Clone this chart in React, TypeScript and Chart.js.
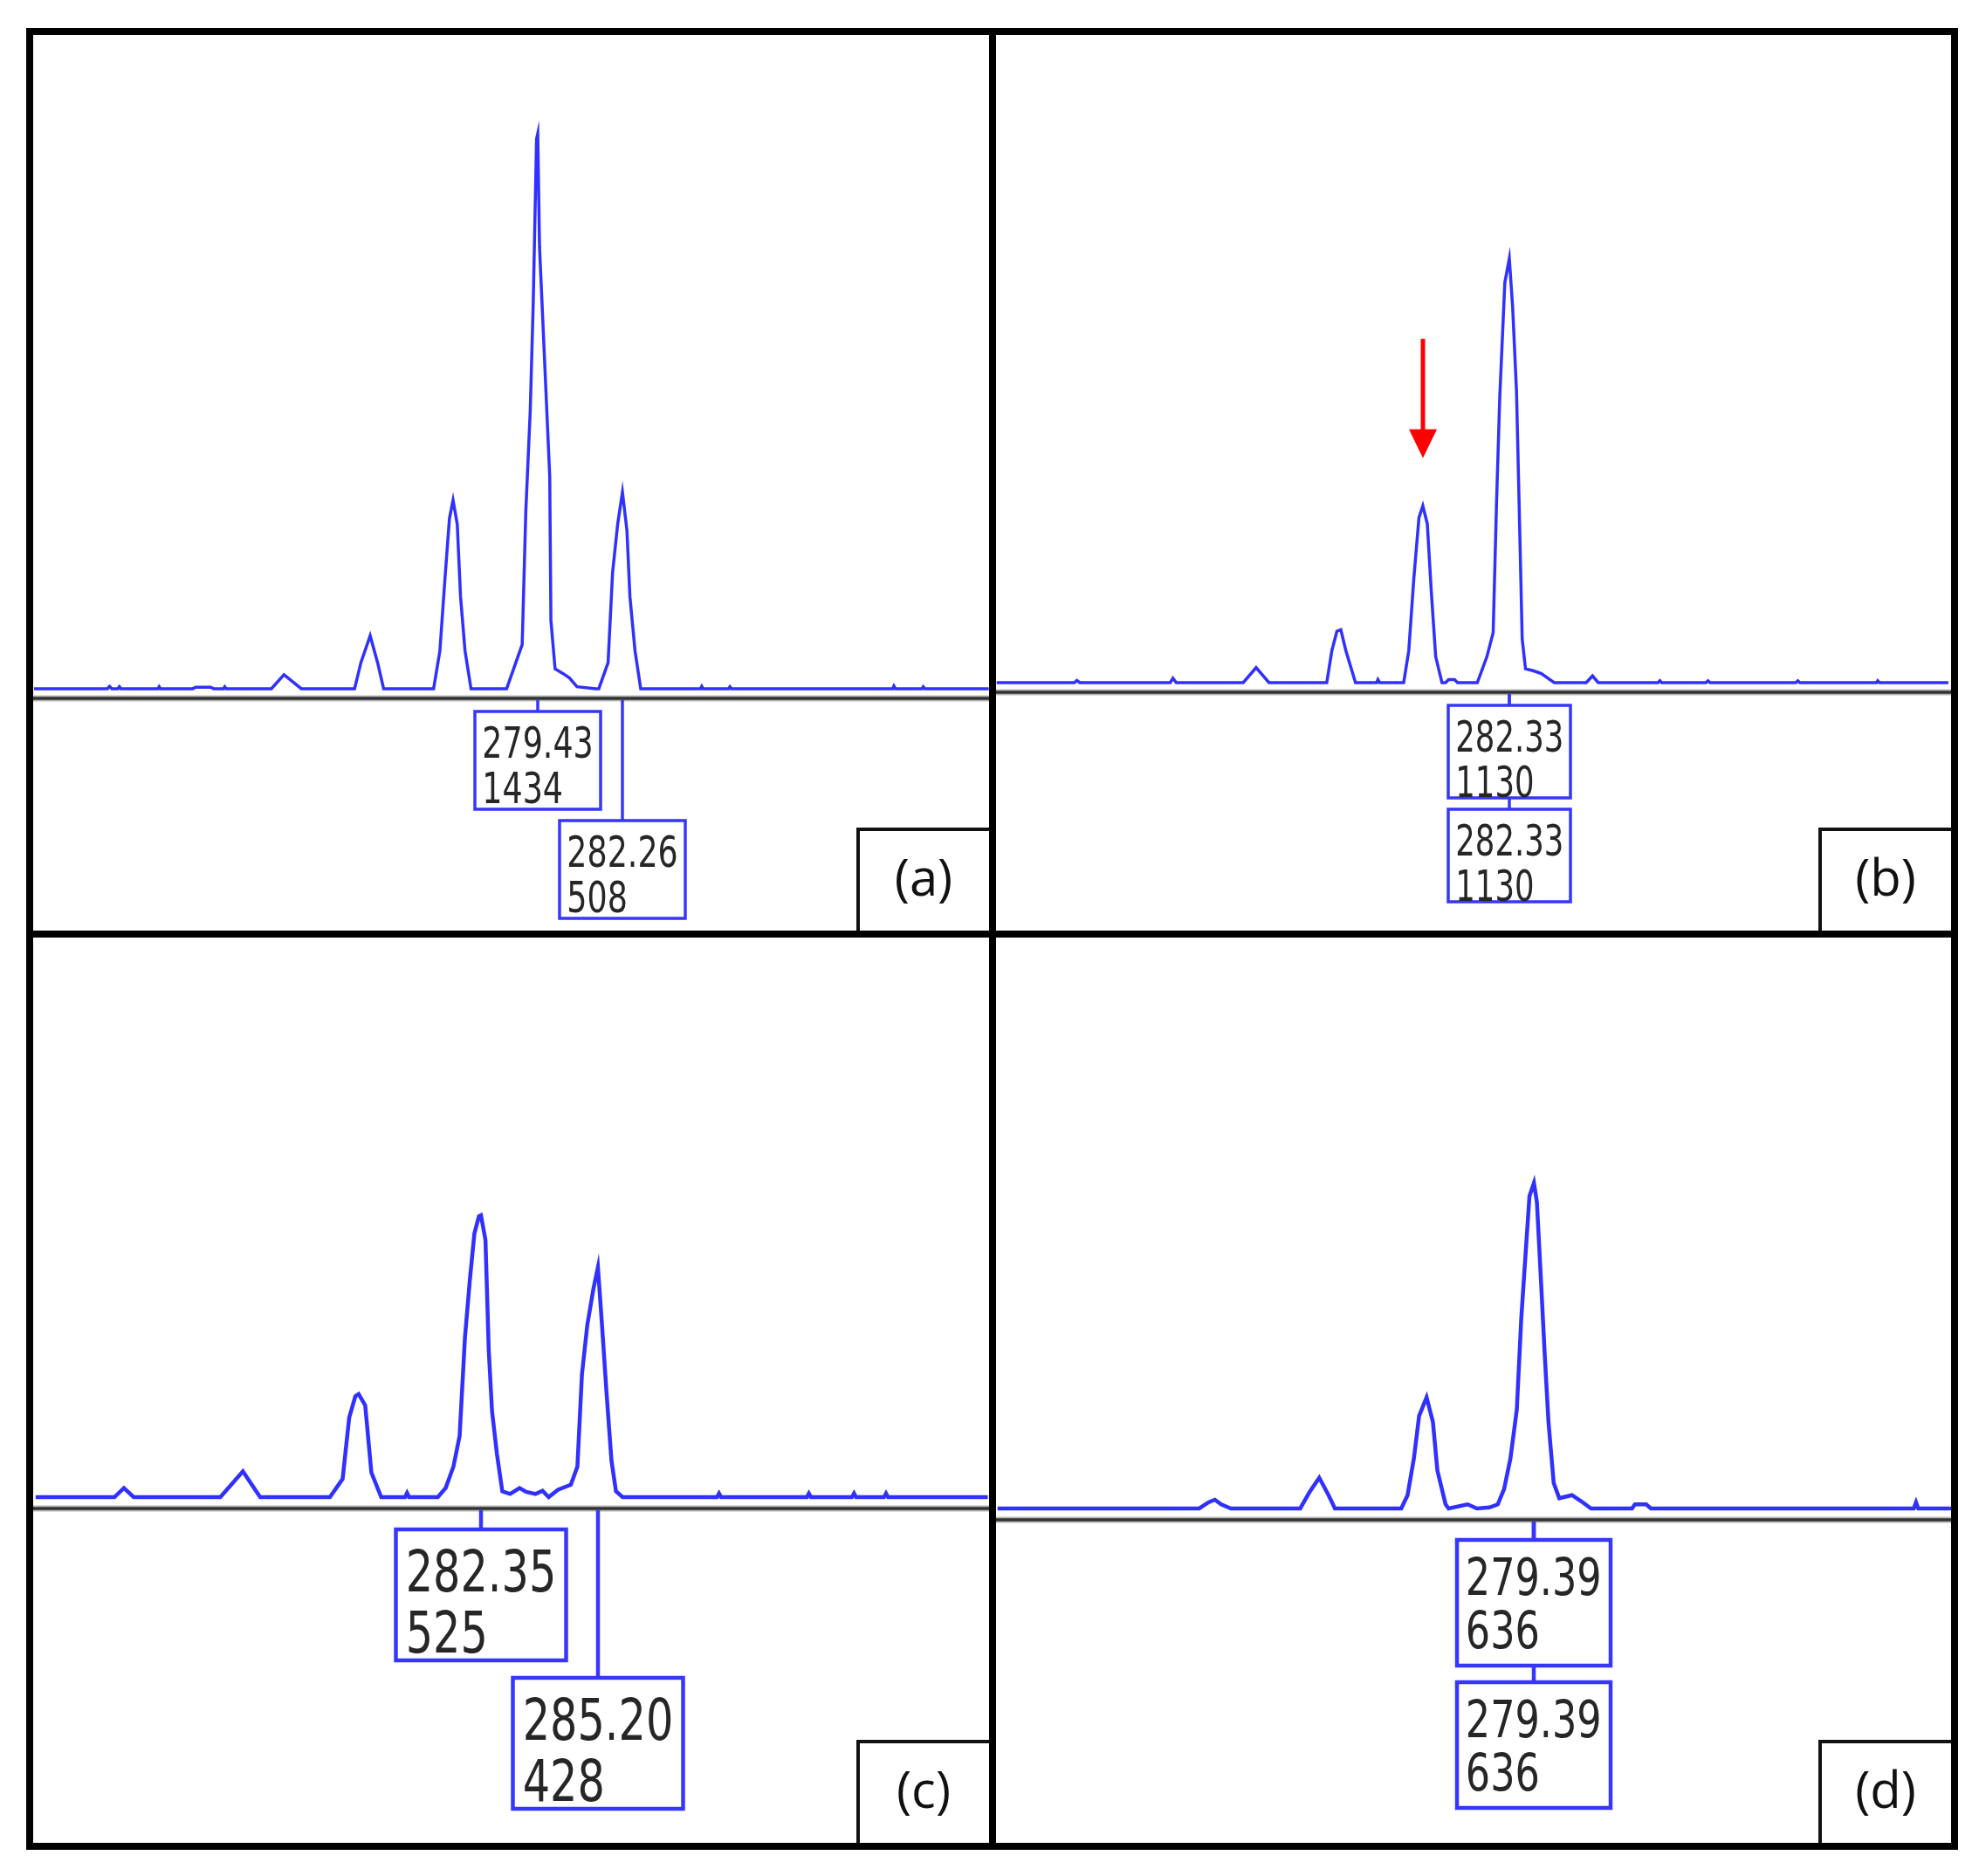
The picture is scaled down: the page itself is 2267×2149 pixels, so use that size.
import React, { useEffect, useRef } from "react";
import { Chart, registerables } from "chart.js";
Chart.register(...registerables);

// ---------- DATA (size in bp, height in RFU) ----------
// Panel (a)
const sizeA = [262.6, 265.05, 265.12, 265.2, 265.4, 265.45, 265.5, 266.74, 266.78, 266.82, 267.9, 268.0, 268.5, 268.6, 268.93, 268.97, 269.02,
  270.53, 270.95, 271.53, 273.31, 273.52, 273.83, 274.08, 274.28, 275.95, 276.16, 276.33, 276.48, 276.6, 276.74, 276.85, 277.0, 277.2,
  278.39, 278.91, 279.03, 279.18, 279.28, 279.39, 279.43, 279.49, 279.66, 279.83, 279.87, 280.01, 280.28, 280.49, 280.74, 281.37,
  281.47, 281.78, 281.93, 282.1, 282.26, 282.41, 282.51, 282.68, 282.87, 284.87, 284.91, 284.95, 285.81, 285.85, 285.9,
  291.29, 291.33, 291.38, 292.27, 292.31, 292.36, 294.5];
const rfuA = [0, 0, 6, 0, 0, 5, 0, 0, 5, 0, 0, 4, 4, 0, 0, 5, 0,
  0, 36, 0, 0, 67, 137, 67, 0, 0, 98, 285, 440, 487, 425, 238, 98, 0,
  0, 114, 456, 720, 1000, 1420, 1434, 1140, 845, 549, 176, 51, 39, 28, 5, 0,
  0, 67, 300, 425, 508, 409, 238, 98, 0, 0, 6, 0, 0, 5, 0,
  0, 7, 0, 0, 5, 0, 0];
const peakSizeA = [279.43, 282.26];
const peakHeightA = [1434, 508];

// Panel (b)
const sizeB = [265.2, 267.8, 267.88, 267.98, 271.0, 271.09, 271.2, 273.44, 273.87, 274.3, 276.23, 276.4, 276.57, 276.7, 276.87, 277.19,
  277.9, 277.94, 278.0, 278.8, 278.97, 279.14, 279.31, 279.44, 279.59, 279.72, 279.87, 280.08, 280.2, 280.3, 280.5, 280.6,
  281.26, 281.58, 281.79, 281.9, 282.01, 282.18, 282.33, 282.44, 282.57, 282.65, 282.76, 282.87, 283.12, 283.4, 283.83,
  284.9, 285.11, 285.3, 287.3, 287.36, 287.42, 288.9, 288.97, 289.04, 291.9, 291.97, 292.04, 294.6, 294.64, 294.7, 297.0];
const rfuB = [0, 0, 6, 0, 0, 12, 0, 0, 40, 0, 0, 85, 137, 141, 85, 0,
  0, 8, 0, 0, 85, 278, 439, 471, 423, 246, 69, 0, 0, 8, 8, 0,
  0, 69, 133, 471, 760, 1066, 1130, 1002, 777, 503, 117, 37, 32, 24, 0,
  0, 18, 0, 0, 5, 0, 0, 5, 0, 0, 5, 0, 0, 5, 0, 0];
const peakSizeB = [282.33, 282.33];
const peakHeightB = [1130, 1130];
const arrowSizeB = 279.44;
const arrowRfuB = [916, 598];

// Panel (c)
const sizeC = [271.5, 273.42, 273.65, 273.89, 276.0, 276.55, 276.97, 278.67, 278.98, 279.14, 279.29, 279.37, 279.53, 279.68, 279.92,
  280.5, 280.55, 280.6, 281.3, 281.49, 281.68, 281.83, 281.96, 282.08, 282.19, 282.3, 282.35, 282.46, 282.54, 282.62, 282.74, 282.87,
  283.06, 283.29, 283.45, 283.68, 283.85, 284.0, 284.23, 284.54, 284.7, 284.81, 284.94, 285.09, 285.2, 285.29, 285.41, 285.53, 285.64, 285.8,
  288.1, 288.15, 288.2, 290.29, 290.34, 290.39, 291.39, 291.44, 291.49, 292.17, 292.22, 292.27, 294.7];
const rfuC = [0, 0, 17, 0, 0, 48, 0, 0, 34, 148, 188, 192, 171, 46, 0,
  0, 8, 0, 0, 17, 57, 114, 297, 405, 491, 523, 525, 479, 274, 160, 80, 11,
  6, 17, 10, 6, 12, 0, 14, 23, 57, 228, 320, 388, 428, 331, 194, 68, 11, 0,
  0, 7, 0, 0, 7, 0, 0, 7, 0, 0, 7, 0, 0];
const peakSizeC = [282.35, 285.2];
const peakHeightC = [525, 428];

// Panel (d)
const sizeD = [265.0, 270.41, 270.66, 270.83, 271.0, 271.26, 273.12, 273.37, 273.63, 273.88, 274.05, 275.83, 276.0, 276.17, 276.31,
  276.51, 276.68, 276.8, 277.02, 277.1, 277.61, 277.86, 278.2, 278.42, 278.59, 278.76, 278.93, 279.05, 279.17, 279.27, 279.39,
  279.47, 279.58, 279.68, 279.78, 279.92, 280.07, 280.41, 280.66, 280.92, 282.02, 282.1, 282.4, 282.53, 289.58, 289.64, 289.7, 290.6];
const rfuD = [0, 0, 12, 17, 8, 0, 0, 32, 60, 26, 0, 0, 26, 98, 181,
  217, 169, 74, 8, 0, 8, 0, 2, 8, 38, 98, 193, 371, 502, 610, 636,
  598, 443, 300, 169, 50, 20, 26, 14, 0, 0, 8, 8, 0, 0, 12, 0, 0];
const peakSizeD = [279.39, 279.39];
const peakHeightD = [636, 636];

const panelTags = ["(a)", "(b)", "(c)", "(d)"];

// ---------- STYLE ----------
const TRACE = "#3030ff";
const BOXBLUE = "#3636ff";
const NUMFONT = '"Liberation Sans Narrow", "DejaVu Sans Condensed", sans-serif';
const TAGFONT = '"Open Sans", "Liberation Sans", sans-serif';

type PanelCfg = {
  sizes: number[]; rfu: number[]; peakSize: number[]; peakHeight: number[]; tag: string;
  left: number; top: number; w: number; h: number; labelArea: number;
  xMin: number; xMax: number; yMin: number; yMax: number;
  boxW: number; boxH: number; rows: number[]; font: number; lw: number;
  arrow?: { size: number; from: number; to: number };
};

const panels: PanelCfg[] = [
  { sizes: sizeA, rfu: rfuA, peakSize: peakSizeA, peakHeight: peakHeightA, tag: panelTags[0],
    left: 38, top: 40, w: 1095, h: 1026, labelArea: 266, xMin: 262.57, xMax: 294.51, yMin: -25, yMax: 1689,
    boxW: 144, boxH: 112, rows: [15, 140], font: 49, lw: 3.5 },
  { sizes: sizeB, rfu: rfuB, peakSize: peakSizeB, peakHeight: peakHeightB, tag: panelTags[1],
    left: 1141, top: 40, w: 1094, h: 1026, labelArea: 273, xMin: 265.18, xMax: 297.09, yMin: -25.6, yMax: 1725.6,
    boxW: 140, boxH: 106, rows: [15, 134], font: 49, lw: 3.5, arrow: { size: arrowSizeB, from: arrowRfuB[0], to: arrowRfuB[1] } },
  { sizes: sizeC, rfu: rfuC, peakSize: peakSizeC, peakHeight: peakHeightC, tag: panelTags[2],
    left: 38, top: 1074, w: 1095, h: 1037, labelArea: 383, xMin: 271.44, xMax: 294.73, yMin: -21.1, yMax: 1042.3,
    boxW: 195, boxH: 150, rows: [24, 194], font: 66, lw: 4.5 },
  { sizes: sizeD, rfu: rfuD, peakSize: peakSizeD, peakHeight: peakHeightD, tag: panelTags[3],
    left: 1141, top: 1074, w: 1094, h: 1037, labelArea: 370, xMin: 264.96, xMax: 290.58, yMin: -22.2, yMax: 1115.1,
    boxW: 176, boxH: 144, rows: [23, 186], font: 58, lw: 4.5 },
];

function Panel({ cfg }: { cfg: PanelCfg }) {
  const ref = useRef<HTMLCanvasElement>(null);
  useEffect(() => {
    const canvas = ref.current!;
    const annot = {
      id: "annot",
      afterDraw(chart: any) {
        const ctx = chart.ctx as CanvasRenderingContext2D;
        const xs = chart.scales.x, ys = chart.scales.y;
        const area = chart.chartArea;
        const axisY = area.bottom;
        ctx.save();
        // baseline axis
        ctx.strokeStyle = "#b8b8b8";
        ctx.lineWidth = 7;
        ctx.beginPath(); ctx.moveTo(0, axisY); ctx.lineTo(chart.width, axisY); ctx.stroke();
        ctx.strokeStyle = "#333333";
        ctx.lineWidth = 3.5;
        ctx.beginPath(); ctx.moveTo(0, axisY); ctx.lineTo(chart.width, axisY); ctx.stroke();
        const blw = cfg.lw;
        // connectors
        ctx.strokeStyle = BOXBLUE;
        ctx.lineWidth = blw;
        cfg.peakSize.forEach((s, i) => {
          const px = Math.round(xs.getPixelForValue(s));
          ctx.beginPath(); ctx.moveTo(px, axisY + 2); ctx.lineTo(px, axisY + cfg.rows[i]); ctx.stroke();
        });
        // boxes
        cfg.peakSize.forEach((s, i) => {
          const px = Math.round(xs.getPixelForValue(s));
          const bx = px - cfg.boxW / 2;
          const by = axisY + cfg.rows[i];
          ctx.fillStyle = "#ffffff";
          ctx.fillRect(bx, by, cfg.boxW, cfg.boxH);
          ctx.strokeStyle = BOXBLUE;
          ctx.lineWidth = blw;
          ctx.strokeRect(bx, by, cfg.boxW, cfg.boxH);
          ctx.fillStyle = "#262626";
          ctx.font = `${cfg.font}px ${NUMFONT}`;
          ctx.textAlign = "left";
          ctx.textBaseline = "alphabetic";
          const t1 = s.toFixed(2);
          const w1 = ctx.measureText(t1).width;
          const sx = Math.min(1, (cfg.boxW * 0.885) / w1);
          const inset = cfg.font * 0.17;
          const b1 = by + cfg.font * 1.08;
          ctx.save();
          ctx.translate(bx + inset, b1);
          ctx.scale(sx, 1);
          ctx.fillText(t1, 0, 0);
          ctx.fillText(String(cfg.peakHeight[i]), 0, cfg.font * 1.06);
          ctx.restore();
        });
        // arrow
        if (cfg.arrow) {
          const ax = Math.round(xs.getPixelForValue(cfg.arrow.size));
          const y0 = ys.getPixelForValue(cfg.arrow.from);
          const y1 = ys.getPixelForValue(cfg.arrow.to);
          const head = 33;
          ctx.strokeStyle = "#ff0000";
          ctx.fillStyle = "#ff0000";
          ctx.lineWidth = 5;
          ctx.beginPath(); ctx.moveTo(ax, y0); ctx.lineTo(ax, y1 - head + 2); ctx.stroke();
          ctx.beginPath();
          ctx.moveTo(ax - 16, y1 - head); ctx.lineTo(ax + 16, y1 - head); ctx.lineTo(ax, y1); ctx.closePath(); ctx.fill();
        }
        // panel tag box
        const tw = 152, th = 118;
        const tx = chart.width - tw, ty = chart.height - th;
        ctx.strokeStyle = "#111111";
        ctx.lineWidth = 4;
        ctx.strokeRect(tx + 2, ty + 2, tw + 10, th + 10);
        ctx.fillStyle = "#111111";
        ctx.font = `58px ${TAGFONT}`;
        ctx.textAlign = "center";
        ctx.textBaseline = "middle";
        ctx.fillText(cfg.tag, tx + tw / 2 + 1, ty + th / 2 + 2);
        ctx.restore();
      },
    };
    const chart = new Chart(canvas, {
      type: "line",
      data: {
        datasets: [{
          data: cfg.sizes.map((s, i) => ({ x: s, y: cfg.rfu[i] })),
          borderColor: TRACE, borderWidth: cfg.lw, pointRadius: 0, tension: 0, fill: false,
          borderJoinStyle: "miter",
        }],
      },
      options: {
        responsive: false, animation: false, devicePixelRatio: 1, events: [],
        layout: { padding: { left: 0, right: 0, top: 0, bottom: cfg.labelArea } },
        plugins: { legend: { display: false }, tooltip: { enabled: false } },
        scales: {
          x: { type: "linear", min: cfg.xMin, max: cfg.xMax, display: false },
          y: { type: "linear", min: cfg.yMin, max: cfg.yMax, display: false },
        },
      },
      plugins: [annot],
    });
    return () => chart.destroy();
  }, [cfg]);
  return (
    <canvas ref={ref} width={cfg.w} height={cfg.h}
      style={{ position: "absolute", left: cfg.left, top: cfg.top, width: cfg.w, height: cfg.h }} />
  );
}

export default function App() {
  return (
    <div style={{ position: "absolute", left: 0, top: 0, width: 2267, height: 2149, background: "#ffffff" }}>
      <div style={{ position: "absolute", left: 30, top: 32, width: 2213, height: 2087, border: "8px solid #000", boxSizing: "border-box" }} />
      <div style={{ position: "absolute", left: 1133, top: 32, width: 8, height: 2087, background: "#000" }} />
      <div style={{ position: "absolute", left: 30, top: 1066, width: 2213, height: 8, background: "#000" }} />
      {panels.map((p, i) => <Panel key={i} cfg={p} />)}
    </div>
  );
}
